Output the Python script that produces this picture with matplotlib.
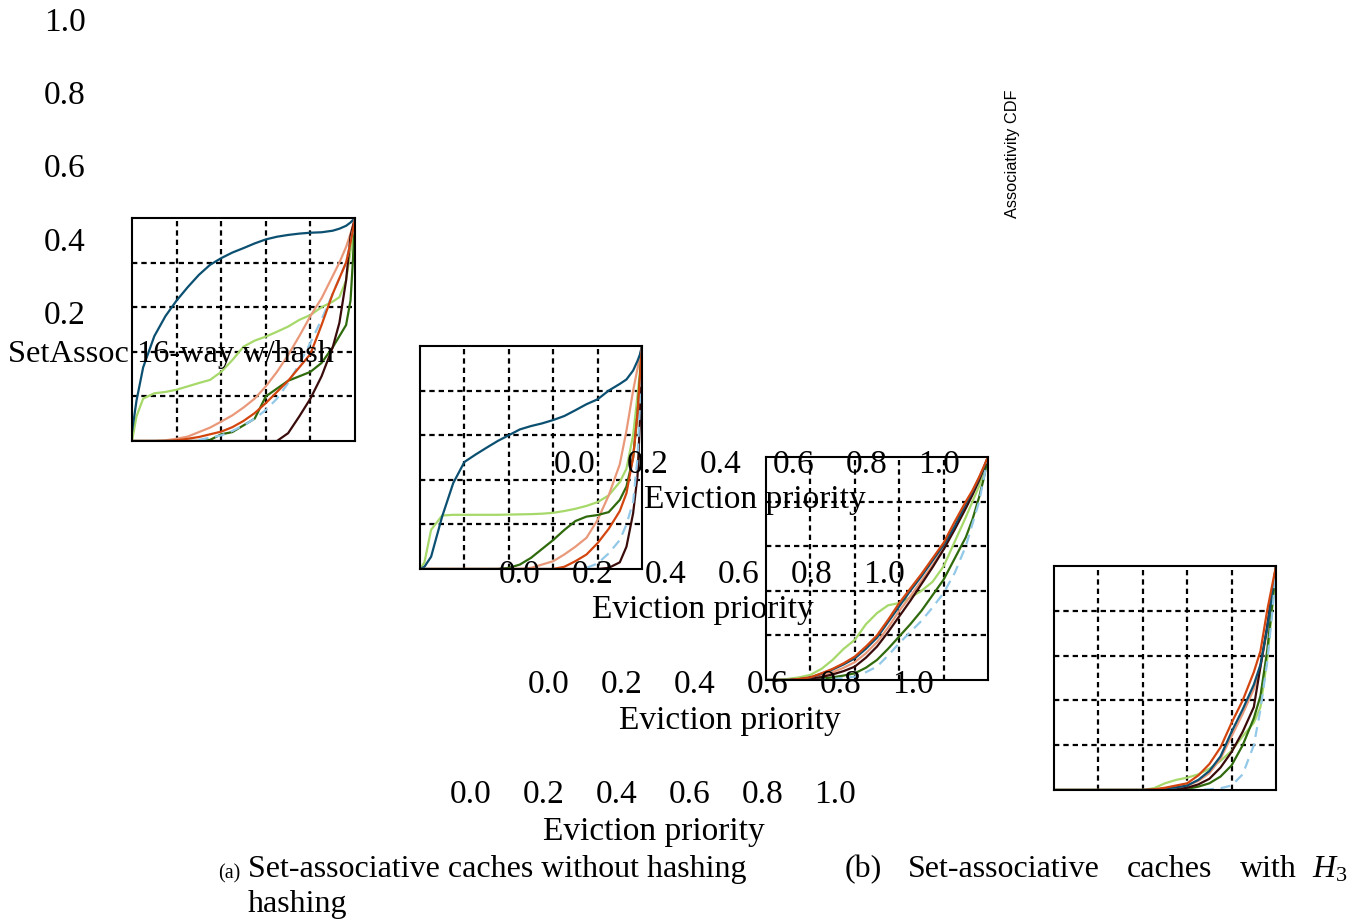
import matplotlib
matplotlib.use("Agg")
import matplotlib.pyplot as plt
from matplotlib import rcParams

rcParams['font.family'] = 'serif'
rcParams['font.serif'] = ['Liberation Serif']
rcParams['mathtext.fontset'] = 'custom'
rcParams['mathtext.rm'] = 'Liberation Serif'
rcParams['mathtext.it'] = 'Liberation Serif:italic'

W, H = 1369, 923

# shared x grid (eviction priority)
priority = [0, 0.02, 0.05, 0.1, 0.15, 0.2, 0.25, 0.3, 0.35, 0.4, 0.45, 0.5, 0.55,
            0.6, 0.65, 0.7, 0.75, 0.8, 0.85, 0.9, 0.93, 0.96, 0.98, 0.99, 1.0]

# panel 1
p1_blue = [0.04, 0.18, 0.33, 0.47, 0.56, 0.63, 0.69, 0.745, 0.79, 0.82, 0.845, 0.865, 0.886,
           0.904, 0.916, 0.924, 0.93, 0.934, 0.936, 0.943, 0.952, 0.965, 0.98, 0.99, 1.0]
p1_lgreen = [0, 0.11, 0.19, 0.214, 0.22, 0.23, 0.245, 0.26, 0.274, 0.31, 0.363, 0.423, 0.45,
             0.468, 0.49, 0.513, 0.543, 0.565, 0.6, 0.625, 0.645, 0.72, 0.85, 0.92, 1.0]
p1_salmon = [0, 0, 0, 0, 0.003, 0.01, 0.02, 0.04, 0.06, 0.087, 0.115, 0.15, 0.19,
             0.245, 0.31, 0.385, 0.47, 0.56, 0.64, 0.74, 0.8, 0.87, 0.93, 0.965, 1.0]
p1_orange = [0, 0, 0, 0, 0, 0.003, 0.01, 0.018, 0.03, 0.042, 0.062, 0.09, 0.125,
             0.17, 0.22, 0.27, 0.33, 0.39, 0.52, 0.66, 0.73, 0.8, 0.89, 0.94, 1.0]
p1_dgreen = [0, 0, 0, 0, 0, 0, 0, 0, 0.005, 0.03, 0.04, 0.07, 0.1,
             0.2, 0.235, 0.27, 0.29, 0.31, 0.35, 0.42, 0.47, 0.52, 0.63, 0.8, 1.0]
p1_lblue = [0, 0, 0, 0, 0, 0, 0, 0.005, 0.015, 0.025, 0.045, 0.07, 0.1,
            0.139, 0.19, 0.26, 0.345, 0.44, 0.545, 0.66, 0.73, 0.8, 0.89, 0.94, 1.0]
p1_maroon = [0, 0, 0, 0, 0, 0, 0, 0, 0, 0, 0, 0, 0,
             0, 0, 0.035, 0.11, 0.19, 0.29, 0.42, 0.53, 0.72, 0.92, 0.96, 1.0]

# panel 2
p2_blue = [0, 0.01, 0.055, 0.236, 0.386, 0.48, 0.513, 0.544, 0.574, 0.6, 0.626, 0.641, 0.653,
           0.668, 0.686, 0.712, 0.739, 0.761, 0.8, 0.83, 0.85, 0.89, 0.934, 0.96, 1.0]
p2_lgreen = [0, 0.03, 0.176, 0.24, 0.243, 0.243, 0.243, 0.243, 0.243, 0.244, 0.245, 0.246, 0.248,
             0.252, 0.26, 0.27, 0.283, 0.3, 0.33, 0.39, 0.45, 0.6, 0.78, 0.88, 1.0]
p2_salmon = [0, 0, 0, 0, 0, 0, 0, 0, 0, 0, 0, 0.005, 0.02,
             0.035, 0.065, 0.1, 0.14, 0.22, 0.33, 0.47, 0.62, 0.8, 0.9, 0.95, 1.0]
p2_orange = [0, 0, 0, 0, 0, 0, 0, 0, 0, 0, 0, 0, 0,
             0, 0.01, 0.035, 0.065, 0.116, 0.18, 0.26, 0.34, 0.5, 0.7, 0.85, 1.0]
p2_dgreen = [0, 0, 0, 0, 0, 0, 0, 0, 0, 0.005, 0.02, 0.05, 0.09,
             0.13, 0.175, 0.215, 0.235, 0.242, 0.255, 0.31, 0.37, 0.5, 0.7, 0.85, 1.0]
p2_lblue = [0, 0, 0, 0, 0, 0, 0, 0, 0, 0, 0, 0, 0,
            0, 0, 0, 0.005, 0.025, 0.07, 0.13, 0.2, 0.3, 0.5, 0.72, 1.0]
p2_maroon = [0, 0, 0, 0, 0, 0, 0, 0, 0, 0, 0, 0, 0,
             0, 0, 0, 0, 0, 0.005, 0.03, 0.1, 0.25, 0.42, 0.65, 1.0]

# panel 3
p3_blue = [0, 0, 0, 0, 0.004, 0.011, 0.028, 0.047, 0.07, 0.097, 0.14, 0.19, 0.26,
           0.33, 0.4, 0.465, 0.535, 0.605, 0.69, 0.79, 0.845, 0.905, 0.95, 0.975, 1.0]
p3_lgreen = [0, 0, 0, 0.005, 0.012, 0.023, 0.05, 0.09, 0.14, 0.18, 0.25, 0.3, 0.335,
             0.345, 0.37, 0.4, 0.44, 0.51, 0.62, 0.73, 0.8, 0.87, 0.93, 0.965, 1.0]
p3_salmon = [0, 0, 0, 0, 0.003, 0.01, 0.02, 0.035, 0.055, 0.08, 0.12, 0.17, 0.235,
             0.31, 0.375, 0.445, 0.515, 0.59, 0.68, 0.775, 0.835, 0.9, 0.95, 0.975, 1.0]
p3_orange = [0, 0, 0, 0, 0.005, 0.012, 0.03, 0.05, 0.075, 0.105, 0.15, 0.2, 0.27,
             0.345, 0.41, 0.475, 0.545, 0.615, 0.71, 0.8, 0.85, 0.91, 0.955, 0.978, 1.0]
p3_dgreen = [0, 0, 0, 0, 0, 0.003, 0.006, 0.012, 0.02, 0.03, 0.055, 0.09, 0.14,
             0.195, 0.25, 0.31, 0.38, 0.45, 0.545, 0.64, 0.72, 0.82, 0.9, 0.95, 1.0]
p3_lblue = [0, 0, 0, 0, 0, 0, 0, 0.005, 0.008, 0.015, 0.035, 0.06, 0.11,
            0.165, 0.215, 0.265, 0.325, 0.39, 0.48, 0.6, 0.7, 0.8, 0.9, 0.95, 1.0]
p3_maroon = [0, 0, 0, 0, 0.002, 0.005, 0.013, 0.025, 0.04, 0.06, 0.1, 0.15, 0.215,
             0.285, 0.355, 0.43, 0.505, 0.585, 0.675, 0.77, 0.83, 0.895, 0.945, 0.972, 1.0]

# panel 4
p4_blue = [0, 0, 0, 0, 0, 0, 0, 0, 0, 0, 0.002, 0.006, 0.012,
           0.02, 0.045, 0.085, 0.15, 0.26, 0.36, 0.47, 0.56, 0.72, 0.86, 0.93, 1.0]
p4_lgreen = [0, 0, 0, 0, 0, 0, 0, 0, 0, 0, 0.008, 0.03, 0.045,
             0.055, 0.07, 0.095, 0.13, 0.175, 0.24, 0.3, 0.37, 0.58, 0.78, 0.88, 1.0]
p4_salmon = [0, 0, 0, 0, 0, 0, 0, 0, 0, 0, 0.002, 0.006, 0.012,
             0.02, 0.04, 0.075, 0.14, 0.24, 0.34, 0.45, 0.55, 0.71, 0.85, 0.92, 1.0]
p4_orange = [0, 0, 0, 0, 0, 0, 0, 0, 0, 0, 0.003, 0.01, 0.02,
             0.03, 0.065, 0.116, 0.19, 0.3, 0.4, 0.526, 0.62, 0.8, 0.9, 0.95, 1.0]
p4_dgreen = [0, 0, 0, 0, 0, 0, 0, 0, 0, 0, 0, 0, 0,
             0.005, 0.015, 0.03, 0.06, 0.11, 0.2, 0.32, 0.42, 0.62, 0.8, 0.9, 1.0]
p4_lblue = [0, 0, 0, 0, 0, 0, 0, 0, 0, 0, 0, 0, 0,
            0, 0, 0.003, 0.008, 0.02, 0.07, 0.2, 0.36, 0.57, 0.76, 0.87, 1.0]
p4_maroon = [0, 0, 0, 0, 0, 0, 0, 0, 0, 0, 0, 0, 0.003,
             0.01, 0.025, 0.05, 0.1, 0.17, 0.26, 0.37, 0.55, 0.73, 0.87, 0.93, 1.0]

panels = [
    [p1_blue, p1_lgreen, p1_salmon, p1_orange, p1_dgreen, p1_lblue, p1_maroon],
    [p2_blue, p2_lgreen, p2_salmon, p2_orange, p2_dgreen, p2_lblue, p2_maroon],
    [p3_blue, p3_lgreen, p3_salmon, p3_orange, p3_dgreen, p3_lblue, p3_maroon],
    [p4_blue, p4_lgreen, p4_salmon, p4_orange, p4_dgreen, p4_lblue, p4_maroon],
]

colors = ['#0b4f71', '#a6d96a', '#e9997a', '#d3450f', '#2f6a0c', '#92c8e8', '#3a0b0b']
styles = ['-', '-', '-', '-', '-', (0, (4.5, 3)), '-']
draw_order = [1, 2, 4, 6, 0, 5, 3]

tick_vals = ['0.0', '0.2', '0.4', '0.6', '0.8', '1.0']

# axes boxes in pixels: left, top, right, bottom
boxes = [(132, 218, 355, 441), (420, 346, 642, 569), (766, 457, 988, 680), (1054, 566, 1276, 790)]


def fx(x):
    return x / W


def fy(y):
    return 1 - y / H


fig = plt.figure(figsize=(W / 100, H / 100), dpi=100)

for box, series in zip(boxes, panels):
    l, t, r, b = box
    ax = fig.add_axes([fx(l), fy(b), (r - l) / W, (b - t) / H])
    for i in draw_order:
        ax.plot(priority, series[i], color=colors[i], linestyle=styles[i], lw=1.6)
    ax.set_xlim(0, 1)
    ax.set_ylim(0, 1)
    ax.set_xticks([0.2, 0.4, 0.6, 0.8])
    ax.set_yticks([0.2, 0.4, 0.6, 0.8])
    ax.tick_params(length=0, labelbottom=False, labelleft=False)
    ax.grid(True, color='black', linestyle=(0, (2.4, 1.8)), lw=1.6)
    for s in ax.spines.values():
        s.set_linewidth(1.5)

fs = 24

# stray y tick labels
for lab, y in zip(['1.0', '0.8', '0.6', '0.4', '0.2'], [31, 104, 177, 251, 324]):
    fig.text(fx(65), fy(y), lab, ha='center', va='baseline', fontsize=fs)

fig.text(fx(8), fy(362), 'SetAssoc 16-way w/hash', ha='left', va='baseline', fontsize=23.3)

# x tick label rows and axis labels
rows = [(575, 473, 755, 508), (520, 583, 703, 618), (549, 693, 730, 729), (471, 803, 654, 840)]
for x0, y0, lx, ly in rows:
    for k, lab in enumerate(tick_vals):
        fig.text(fx(x0 + 72.8 * k), fy(y0), lab, ha='center', va='baseline', fontsize=fs)
    fig.text(fx(lx), fy(ly), 'Eviction priority', ha='center', va='baseline', fontsize=fs)

fig.text(fx(1012), fy(154), 'Associativity CDF', rotation=90, ha='center', va='center',
         fontsize=11.8, family='Liberation Sans')

# captions
fig.text(fx(218), fy(878), '(a)', ha='left', va='baseline', fontsize=14.5)
fig.text(fx(248), fy(877), 'Set-associative caches without hashing', ha='left', va='baseline', fontsize=23)
fig.text(fx(248), fy(912), 'hashing', ha='left', va='baseline', fontsize=23)
for word, x in [('(b)', 845), ('Set-associative', 908), ('caches', 1127), ('with', 1240), ('$H_3$', 1312)]:
    fig.text(fx(x), fy(877), word, ha='left', va='baseline', fontsize=23)

fig.savefig('out.png', dpi=100)
